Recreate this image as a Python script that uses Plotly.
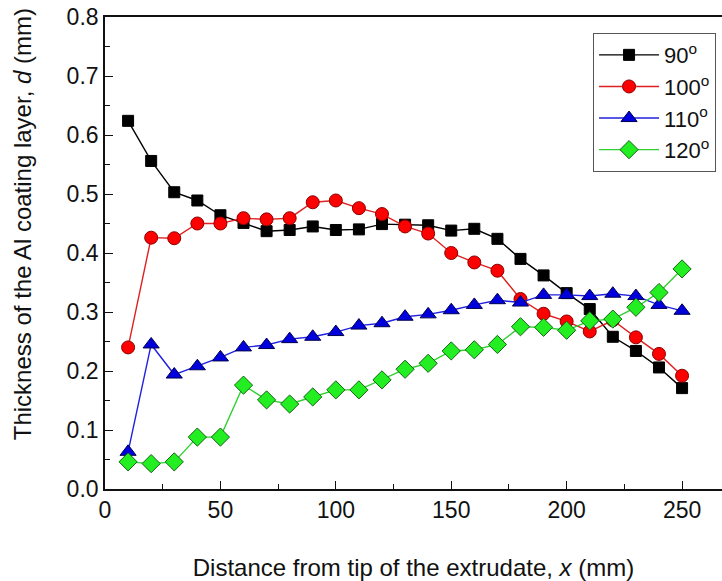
import plotly.graph_objects as go

# Distance from the extrudate tip (mm)
distance = [10, 20, 30, 40, 50, 60, 70, 80, 90, 100, 110, 120, 130,
            140, 150, 160, 170, 180, 190, 200, 210, 220, 230, 240, 250]

# Al coating layer thickness (mm) for each die angle
d_90 = [0.624, 0.556, 0.503, 0.489, 0.464, 0.451, 0.437, 0.439, 0.445, 0.439,
        0.440, 0.449, 0.448, 0.447, 0.438, 0.441, 0.424, 0.390, 0.362, 0.332,
        0.305, 0.258, 0.234, 0.206, 0.171]
d_100 = [0.240, 0.426, 0.425, 0.450, 0.450, 0.459, 0.457, 0.459, 0.486, 0.489,
         0.476, 0.466, 0.445, 0.433, 0.400, 0.384, 0.370, 0.322, 0.297, 0.284,
         0.267, 0.286, 0.257, 0.229, 0.192]
d_110 = [0.063, 0.245, 0.194, 0.208, 0.223, 0.240, 0.244, 0.254, 0.258, 0.266,
         0.277, 0.281, 0.292, 0.296, 0.303, 0.312, 0.320, 0.316, 0.329, 0.329,
         0.327, 0.331, 0.327, 0.312, 0.302]
d_120 = [0.046, 0.043, 0.046, 0.088, 0.088, 0.176, 0.151, 0.144, 0.156, 0.168,
         0.168, 0.185, 0.203, 0.213, 0.234, 0.236, 0.245, 0.275, 0.274, 0.269,
         0.285, 0.288, 0.308, 0.333, 0.373]

series_names = ["90<sup>o</sup>", "100<sup>o</sup>", "110<sup>o</sup>", "120<sup>o</sup>"]
series_values = [d_90, d_100, d_110, d_120]

x_ticks = [0, 50, 100, 150, 200, 250]
x_minor = [25, 75, 125, 175, 225]
y_ticks = [0.0, 0.1, 0.2, 0.3, 0.4, 0.5, 0.6, 0.7, 0.8]
y_tick_text = ["0.0", "0.1", "0.2", "0.3", "0.4", "0.5", "0.6", "0.7", "0.8"]
y_minor = [0.05, 0.15, 0.25, 0.35, 0.45, 0.55, 0.65, 0.75]

styles = [
    dict(line="#000000", fill="#000000", edge="#000000", symbol="square", size=11),
    dict(line="#e02020", fill="#ff0000", edge="#8b0000", symbol="circle", size=13),
    dict(line="#2020e0", fill="#0000dd", edge="#000050", symbol="triangle-up", size=14),
    dict(line="#30d030", fill="#22ee22", edge="#146414", symbol="diamond", size=14),
]

fig = go.Figure()
for name, vals, st in zip(series_names, series_values, styles):
    fig.add_trace(go.Scatter(
        x=distance, y=vals, name=name, mode="lines+markers",
        line=dict(color=st["line"], width=1.4),
        marker=dict(symbol=st["symbol"], size=st["size"], color=st["fill"],
                    line=dict(color=st["edge"], width=1)),
    ))

font_family = "Liberation Sans, Arial, sans-serif"
ink = "#111111"

fig.update_layout(
    width=722, height=581,
    margin=dict(l=105, r=0, t=17, b=92),
    paper_bgcolor="white", plot_bgcolor="white",
    font=dict(family=font_family, color=ink, size=23),
    showlegend=True,
    legend=dict(
        x=0.791, y=0.966, xanchor="left", yanchor="top",
        bordercolor="#555555", borderwidth=1, bgcolor="white",
        font=dict(size=22), tracegroupgap=0, itemwidth=60,
    ),
    xaxis=dict(
        range=[0, 267.3], tickmode="array", tickvals=x_ticks,
        ticks="inside", ticklen=8, tickwidth=1.2, tickcolor=ink,
        minor=dict(tickvals=x_minor, ticks="inside", ticklen=5,
                   tickwidth=1.2, tickcolor=ink),
        showline=True, linecolor=ink, linewidth=1.6, mirror=True,
        showgrid=False, zeroline=False,
        tickfont=dict(size=23),
        title=dict(text="Distance from tip of the extrudate, <i>x</i> (mm)",
                   font=dict(size=24), standoff=38),
    ),
    yaxis=dict(
        range=[0, 0.8], tickmode="array", tickvals=y_ticks, ticktext=y_tick_text,
        ticks="inside", ticklen=8, tickwidth=1.2, tickcolor=ink,
        minor=dict(tickvals=y_minor, ticks="inside", ticklen=5,
                   tickwidth=1.2, tickcolor=ink),
        showline=True, linecolor=ink, linewidth=1.6, mirror=False,
        showgrid=False, zeroline=False,
        tickfont=dict(size=23),
    ),
    annotations=[dict(
        text="Thickness of the Al coating layer, <i>d</i> (mm)",
        textangle=-90, xref="paper", yref="paper",
        x=-0.1345, y=0.561, xanchor="center", yanchor="middle",
        showarrow=False, font=dict(size=24, family=font_family, color=ink),
    )],
)

fig.write_html("out.html")
